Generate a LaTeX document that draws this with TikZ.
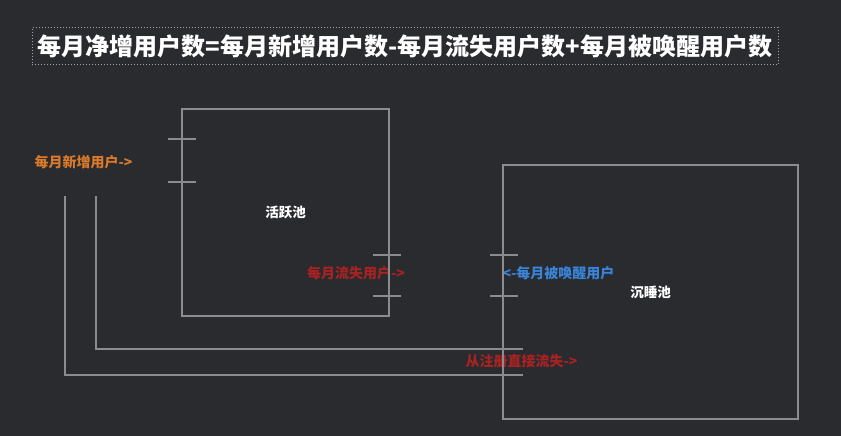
\documentclass[tikz,border=0pt]{standalone}
\usepackage{fontspec}
\newfontfamily\cjk{Noto Sans CJK SC}
\definecolor{bgc}{HTML}{2A2B2F}
\definecolor{linec}{HTML}{8C8C8E}
\definecolor{orangec}{HTML}{D97A2B}
\definecolor{redc}{HTML}{A82222}
\definecolor{bluec}{HTML}{3A83D6}
\tikzset{
  pool/.style={draw=linec, line width=2pt, minimum width=#1, inner sep=0pt},
  tick/.style={draw=linec, line width=2pt},
  flowline/.style={draw=linec, line width=2pt},
  lbl/.style={inner sep=0pt, font=\cjk\bfseries\fontsize{14}{16}\selectfont},
  poolname/.style={inner sep=0pt, text=white, font=\cjk\bfseries\fontsize{13.5}{15}\selectfont},
}
\begin{document}
\begin{tikzpicture}[x=1pt,y=-1pt]
\fill[bgc] (0,0) rectangle (841,436);
\useasboundingbox (0,0) rectangle (841,436);
% title
\node[draw=linec!80, dotted, line width=1pt, minimum width=746, minimum height=37, inner sep=0pt,
      text=white, font=\cjk\bfseries\fontsize{24}{28}\selectfont] (title) at (405,46.5)
  {每月净增用户数=每月新增用户数-每月流失用户数+每月被唤醒用户数};
% labels
\node[lbl, text=orangec] (newlbl) at (83.5,162) {每月新增用户->};
\node[lbl, text=redc] (churnlbl) at (356,273) {每月流失用户->};
\node[lbl, text=bluec] (wakelbl) at (558.5,273) {<-每月被唤醒用户};
\node[lbl, text=redc] (directlbl) at (521.5,361) {从注册直接流失->};
% pools
\node[pool=207pt, minimum height=207pt] (active) at (285.5,212.5) {};
\node[poolname] at (active.center) {活跃池};
\node[pool=295pt, minimum height=254pt] (sleep) at (650.5,292) {};
\node[poolname] at (sleep.center) {沉睡池};
% ticks on active pool
\draw[tick] (168,139) -- (196,139);
\draw[tick] (168,182) -- (196,182);
\draw[tick] (373,255) -- (401,255);
\draw[tick] (373,296) -- (401,296);
% ticks on sleep pool
\draw[tick] (490,255) -- (518,255);
\draw[tick] (490,296) -- (518,296);
% flow lines
\coordinate (innerstart) at (96,196);
\coordinate (innerend) at (523,349);
\coordinate (outerstart) at (65,196);
\coordinate (outerend) at (523,375);
\draw[flowline] (innerstart) |- (innerend);
\draw[flowline] (outerstart) |- (outerend);
\end{tikzpicture}
\end{document}
